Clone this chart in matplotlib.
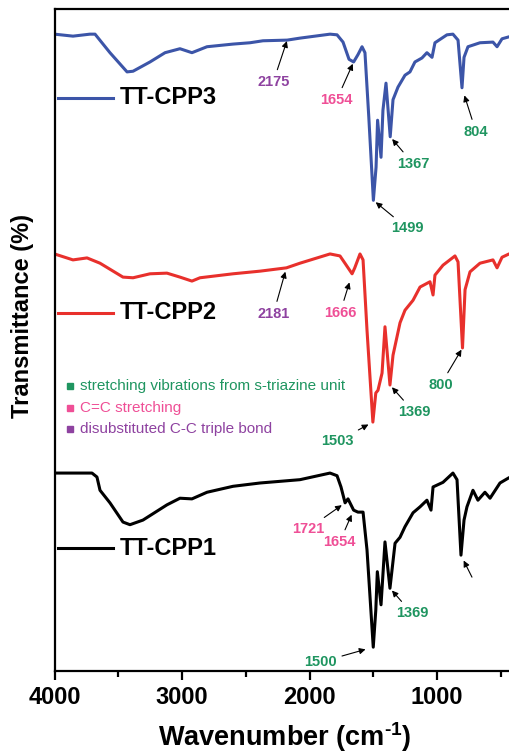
import numpy as np
import matplotlib.pyplot as plt
from matplotlib.ticker import MultipleLocator

plt.rcParams['font.family'] = ['Liberation Sans', 'DejaVu Sans']
plt.rcParams['mathtext.fontset'] = 'custom'
plt.rcParams['mathtext.rm'] = 'Liberation Sans:bold'
plt.rcParams['mathtext.bf'] = 'Liberation Sans:bold'

# FTIR spectra (wavenumber in cm-1, offset transmittance)
wn_cpp3 = [4000, 3855, 3722, 3682, 3565, 3431, 3384, 3251, 3133, 3016, 2922, 2804,
           2600, 2467, 2365, 2175, 2075, 1839, 1784, 1737, 1690, 1654, 1620, 1588,
           1565, 1535, 1499, 1478, 1466, 1439, 1424, 1400, 1367, 1345, 1306, 1251,
           1212, 1173, 1118, 1079, 1039, 1016, 922, 875, 835, 804, 788, 757, 663,
           561, 529, 490, 435, 400]
t_cpp3 = [96.2, 95.9, 96.2, 96.2, 93.4, 90.5, 90.6, 92.0, 93.4, 94.0, 93.4, 94.3,
          94.7, 94.9, 95.2, 95.3, 95.6, 96.2, 96.1, 95.0, 92.4, 92.0, 93.1, 94.3,
          93.4, 83.7, 71.1, 76.1, 83.2, 77.6, 84.7, 88.8, 80.7, 86.3, 88.2, 90.0,
          90.5, 92.0, 92.6, 93.4, 92.7, 94.9, 96.1, 96.2, 95.3, 88.1, 92.7, 94.3, 94.9,
          95.0, 94.3, 95.5, 95.8, 95.8]

wn_cpp2 = [4000, 3855, 3745, 3643, 3463, 3384, 3251, 3118, 3016, 2922, 2859, 2600,
           2388, 2181, 2075, 1839, 1761, 1722, 1666, 1645, 1604, 1580, 1549, 1503,
           1480, 1463, 1431, 1408, 1369, 1345, 1290, 1251, 1188, 1133, 1055, 1031,
           1016, 953, 859, 835, 800, 780, 741, 663, 561, 529, 490, 435, 400]
t_cpp2 = [63.0, 62.1, 62.4, 61.6, 59.5, 59.4, 60.0, 60.1, 59.5, 58.9, 59.4, 60.0,
          60.4, 60.9, 61.6, 63.0, 62.7, 61.6, 60.0, 60.9, 63.0, 62.1, 51.5, 37.6,
          42.0, 42.4, 45.0, 52.0, 43.2, 47.7, 52.6, 54.5, 56.0, 58.0, 58.8, 56.8,
          59.8, 61.3, 62.7, 61.8, 48.8, 57.6, 60.3, 61.6, 62.1, 60.9, 62.5, 63.0, 63.0]

wn_cpp1 = [4000, 3706, 3667, 3643, 3565, 3463, 3408, 3306, 3118, 3016, 2922, 2804,
           2600, 2388, 2075, 1839, 1784, 1753, 1721, 1698, 1654, 1620, 1580, 1549,
           1500, 1480, 1468, 1439, 1408, 1369, 1329, 1290, 1251, 1188, 1133, 1079,
           1047, 1031, 953, 875, 843, 812, 788, 765, 718, 679, 624, 584, 506, 435, 400]
t_cpp1 = [29.9, 29.9, 29.3, 27.3, 25.4, 22.5, 22.1, 22.8, 25.1, 26.1, 26.0, 27.0,
          27.9, 28.4, 28.9, 29.9, 29.5, 27.8, 25.4, 26.0, 24.3, 24.0, 24.0, 18.3,
          3.6, 9.2, 15.0, 10.0, 19.5, 12.5, 19.3, 20.2, 21.8, 23.9, 24.8, 25.8,
          24.3, 27.8, 28.5, 29.9, 28.9, 17.5, 22.8, 24.8, 27.3, 25.8, 27.0, 26.1,
          28.4, 29.2, 29.4]

names = ['TT-CPP3', 'TT-CPP2', 'TT-CPP1']
colors = ['#3c55a8', '#e8302c', '#000000']

c_triazine = '#1f9560'
c_alkene = '#ef4f96'
c_alkyne = '#8e42a0'
note_texts = ['stretching vibrations from s-triazine unit', 'C=C stretching',
              'disubstituted C-C triple bond']
note_colors = [c_triazine, c_alkene, c_alkyne]

# peak labels: series index, wavenumber, colour, text offset (px), arrow gap (px)
peaks = [
    (0, 2175, c_alkyne, -14, -42, 1),
    (0, 1654, c_alkene, -17, -38, 2),
    (0, 1499, c_triazine, 34, -28, 3),
    (0, 1367, c_triazine, 23, -27, 3),
    (0, 804, c_triazine, 14, -44, 8),
    (1, 2181, c_alkyne, -13, -46, 4),
    (1, 1666, c_alkene, -12, -39, 9),
    (1, 1503, c_triazine, -35, -19, 5),
    (1, 1369, c_triazine, 24, -27, 3),
    (1, 800, c_triazine, -22, -37, 2),
    (2, 1721, c_alkene, -37, -26, 4),
    (2, 1654, c_alkene, -14, -32, 5),
    (2, 1500, c_triazine, -53, -15, 8),
    (2, 1369, c_triazine, 22, -25, 3),
]

series = [(wn_cpp3, t_cpp3), (wn_cpp2, t_cpp2), (wn_cpp1, t_cpp1)]

fig = plt.figure(figsize=(5.09, 7.53), dpi=100)
ax = fig.add_axes([54.5 / 509, 82 / 753, 459 / 509, 662 / 753])

for (wn, t), c in zip(series, colors):
    ax.plot(wn, t, color=c, lw=2.2, solid_joinstyle='round')

ax.set_xlim(4000, 400)
ax.set_ylim(0, 100)


def t_at(idx, w):
    wn, t = series[idx]
    return np.interp(w, wn[::-1], t[::-1])


arrow_kw = dict(arrowstyle='-|>', color='black', lw=0.8, mutation_scale=9)

for idx, w, c, dx, dy, gap in peaks:
    ax.annotate(str(w), xy=(w, t_at(idx, w)), xytext=(dx, dy),
                textcoords='offset pixels', ha='center', va='center',
                color=c, fontsize=10.5, fontweight='bold',
                arrowprops=dict(arrow_kw, shrinkA=2, shrinkB=gap * 0.72))

# unlabelled arrow on the TT-CPP1 out-of-plane band
ax.annotate('', xy=(812, t_at(2, 812)), xytext=(11, -22), textcoords='offset pixels',
            arrowprops=dict(arrow_kw, shrinkA=0, shrinkB=6 * 0.72))

# series labels next to each trace
legend_y = [0.8656, 0.5408, 0.1858]
for name, c, y in zip(names, colors, legend_y):
    ax.plot([0.0076, 0.1275], [y, y], color=c, lw=2.2, transform=ax.transAxes)
    ax.text(0.1427, y, name, transform=ax.transAxes, fontsize=17,
            fontweight='bold', va='center', ha='left')

# band assignment key
note_y = [0.4305, 0.3973, 0.3656]
for txt, c, y in zip(note_texts, note_colors, note_y):
    ax.plot([0.0338], [y], marker='s', ms=3.8, color=c, transform=ax.transAxes)
    ax.text(0.0556, y, txt, transform=ax.transAxes, fontsize=11,
            color=c, va='center', ha='left')

ax.xaxis.set_major_locator(MultipleLocator(1000))
ax.xaxis.set_minor_locator(MultipleLocator(500))
ax.tick_params(axis='x', which='major', direction='out', length=6.5, width=1.6,
               labelsize=17, pad=4)
ax.tick_params(axis='x', which='minor', direction='out', length=4, width=1.6)
ax.tick_params(axis='y', left=False, labelleft=False)
for lab in ax.get_xticklabels():
    lab.set_fontweight('bold')
for sp in ax.spines.values():
    sp.set_linewidth(1.6)

fig.text(285 / 509, 1 - 746 / 753, r'Wavenumber (cm$^{\text{-}1}$)',
         fontsize=19.5, fontweight='bold', ha='center', va='baseline')
fig.text(23 / 509, 1 - 316 / 753, 'Transmittance (%)', rotation=90,
         fontsize=17, fontweight='bold', ha='center', va='center')

fig.savefig('out.png', dpi=100)
